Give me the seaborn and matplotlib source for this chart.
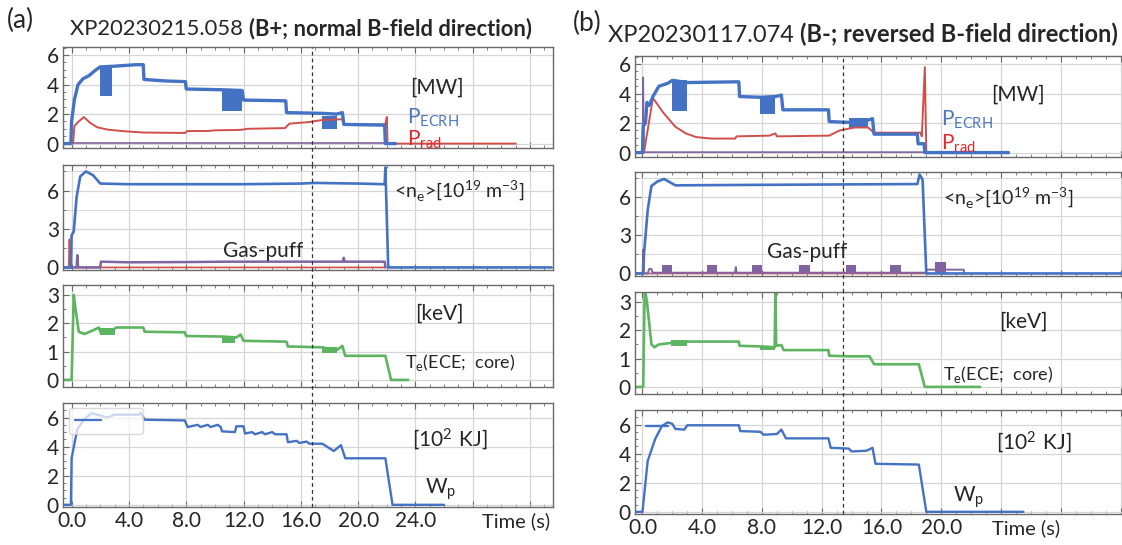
import numpy as np
import pandas as pd
import matplotlib.pyplot as plt
import seaborn as sns
from matplotlib.lines import Line2D
from matplotlib.ticker import MultipleLocator

# ==========================================
# Style
# ==========================================
sns.set_style('whitegrid')
plt.rcParams['font.family'] = ['Lato', 'DejaVu Sans']
plt.rcParams['axes.linewidth'] = 1.0

BLUE = '#4472c4'
RED = '#cf4f4b'
GREEN = '#5db461'
PURPLE = '#8064a2'
GRID = '#d6d6d6'
FRAME = '#6a6a6a'

# ==========================================
# Data -- (a) XP20230215.058
# ==========================================
a_ecrh_t = [-0.6, -0.05, 0.0, 0.2, 0.45, 0.8, 1.2, 1.7, 2.0, 3.0, 4.5, 5.0, 5.05, 6.5, 7.95, 8.0, 10.5,
            11.9, 12.0, 14.95, 15.0, 17.5, 18.5, 18.9, 19.0, 21.85, 21.9, 22.6]
a_ecrh_v = [0, 0, 1.5, 3.0, 4.0, 4.4, 4.6, 5.0, 5.2, 5.25, 5.35, 5.35, 4.35, 4.25, 4.2, 3.7, 3.65,
            3.6, 2.95, 2.9, 2.1, 2.05, 2.0, 2.1, 1.3, 1.25, 0, 0]
a_ecrh_mod_t0 = [2.0, 10.5, 17.5]
a_ecrh_mod_t1 = [2.85, 11.9, 18.5]
a_ecrh_mod_lo = [3.2, 2.2, 1.0]
a_ecrh_mod_hi = [5.25, 3.65, 1.9]

a_prad_t = [-0.6, 0.1, 0.2, 0.5, 0.85, 1.3, 1.8, 2.5, 3.5, 5.0, 7.9, 8.1, 9.5, 10.0, 11.5, 12.0, 12.2,
            14.9, 15.2, 15.8, 16.5, 17.5, 18.9, 19.0, 21.9, 22.0, 22.05, 31.0]
a_prad_v = [0, 0, 1.2, 1.5, 1.8, 1.4, 1.1, 0.95, 0.85, 0.75, 0.72, 0.85, 0.85, 0.9, 0.92, 0.95, 1.0,
            1.05, 1.35, 1.4, 1.45, 1.6, 1.65, 1.3, 1.3, 1.8, 0, 0]
a_puff1_t = [-0.6, 21.9]
a_puff1_v = [0.03, 0.03]

a_ne_t = [-0.6, -0.05, 0.0, 0.15, 0.35, 0.6, 1.0, 1.5, 2.0, 4.0, 12.0, 16.0, 17.0, 20.0, 21.85, 21.9,
          22.1, 33.5]
a_ne_v = [0, 0, 2.5, 2.8, 5.5, 7.1, 7.5, 7.2, 6.55, 6.5, 6.5, 6.55, 6.6, 6.55, 6.5, 7.8, 0, 0]
a_ne_red_t = [-0.6, -0.2, -0.15, -0.1, 21.9]
a_ne_red_v = [0, 0, 2.2, 0, 0]
a_gas_t = [-0.6, 0.35, 0.4, 0.45, 2.0, 2.05, 4.0, 8.0, 11.0, 13.0, 16.0, 18.95, 19.0, 19.05, 21.85, 21.9]
a_gas_v = [0, 0, 0.95, 0, 0, 0.45, 0.4, 0.42, 0.45, 0.45, 0.45, 0.45, 0.75, 0.45, 0.45, 0]

a_te_t = [-0.6, 0.0, 0.15, 0.25, 0.5, 0.9, 1.5, 1.9, 2.0, 3.0, 3.1, 5.0, 5.1, 7.9, 8.0, 10.5, 11.5,
          11.8, 12.0, 15.0, 15.1, 17.5, 18.5, 18.9, 19.1, 21.9, 22.3, 23.5]
a_te_v = [0, 0, 3.0, 2.6, 1.7, 1.62, 1.75, 1.85, 1.7, 1.8, 1.85, 1.85, 1.7, 1.68, 1.55, 1.53, 1.5,
          1.6, 1.38, 1.35, 1.18, 1.15, 1.05, 1.2, 0.85, 0.85, 0, 0]
a_te_mod_t0 = [2.0, 10.5, 17.5]
a_te_mod_t1 = [3.0, 11.4, 18.5]
a_te_mod_lo = [1.6, 1.3, 0.95]
a_te_mod_hi = [1.85, 1.55, 1.15]

a_wp_t = [-0.6, -0.05, 0.0, 0.4, 0.9, 1.4, 2.5, 3.0, 4.7, 4.8, 5.1, 7.9, 8.1, 8.8, 9.0, 9.5, 9.7,
          10.2, 10.4, 10.5, 11.4, 11.5, 12.0, 12.1, 12.6, 12.8, 13.3, 13.5, 14.0, 14.2, 15.0, 15.1,
          15.7, 15.9, 16.4, 16.6, 17.5, 18.3, 18.8, 19.1, 21.9, 22.4, 26.0]
a_wp_v = [0, 0, 3.2, 5.2, 5.9, 6.3, 6.0, 6.2, 6.2, 6.35, 5.85, 5.8, 5.35, 5.5, 5.35, 5.5, 5.35,
          5.5, 5.35, 5.05, 5.0, 5.4, 5.4, 4.9, 5.0, 4.85, 5.0, 4.85, 5.0, 4.85, 4.85, 4.3,
          4.4, 4.25, 4.35, 4.2, 4.2, 3.7, 4.1, 3.2, 3.2, 0, 0]

# ==========================================
# (b) XP20230117.074
# ==========================================
b_ecrh_t = [-0.5, 0.0, 0.05, 0.2, 0.3, 0.45, 0.7, 1.1, 1.7, 2.0, 3.0, 6.45, 6.5, 7.9, 8.9, 9.3, 9.4,
            12.45, 12.5, 13.8, 15.1, 15.4, 15.5, 18.4, 18.45, 18.85, 18.9, 24.5]
b_ecrh_v = [0, 0, 1.8, 2.0, 3.4, 3.2, 3.8, 4.5, 4.7, 4.9, 4.75, 4.8, 3.8, 3.75, 3.8, 3.9, 2.9,
            2.9, 2.1, 2.05, 2.2, 2.3, 1.25, 1.25, 0.6, 0.6, 0, 0]
b_ecrh_mod_t0 = [2.0, 7.9, 13.8]
b_ecrh_mod_t1 = [3.0, 8.9, 15.1]
b_ecrh_mod_lo = [2.8, 2.6, 1.7]
b_ecrh_mod_hi = [4.9, 3.85, 2.35]

b_prad_t = [-0.5, 0.1, 0.7, 1.4, 2.2, 2.9, 3.6, 4.6, 6.2, 6.3, 8.5, 8.9, 9.0, 12.5, 13.2, 14.2, 15.1,
            15.5, 18.6, 18.7, 18.9, 19.0, 24.5]
b_prad_v = [0, 0, 3.7, 2.7, 1.75, 1.3, 1.05, 0.95, 0.95, 1.1, 1.15, 1.3, 1.1, 1.15, 1.5, 1.7, 1.7,
            1.35, 1.35, 1.1, 5.8, 0, 0]
b_puff1_t = [-0.5, 0.0, 0.05, 0.1, 18.9]
b_puff1_v = [0.03, 0.03, 5.1, 0.03, 0.03]

b_ne_t = [-0.5, 0.05, 0.1, 0.35, 0.6, 1.0, 1.45, 2.2, 10.0, 18.4, 18.55, 18.75, 19.0, 32.5]
b_ne_v = [0, 0, 1.5, 5.0, 6.9, 7.25, 7.45, 6.95, 7.0, 7.05, 7.8, 7.4, 0, 0]
b_ne_red_t = [-0.5, 0.0, 0.05, 0.1, 18.9]
b_ne_red_v = [0, 0, 1.9, 0, 0]
b_gas_t = [-0.5, 0.35, 0.45, 0.6, 0.7, 0.75, 6.2, 6.25, 6.3, 18.95, 19.0, 21.5, 21.55]
b_gas_v = [0.0, 0.0, 0.35, 0.35, 0.0, 0.06, 0.06, 0.5, 0.06, 0.06, 0.3, 0.3, 0.0]
b_puff_t0 = [1.3, 4.3, 7.3, 10.5, 13.6, 16.6, 19.6]
b_puff_w = [0.7, 0.7, 0.7, 0.7, 0.7, 0.7, 0.7]
b_puff_h = [0.7, 0.7, 0.7, 0.7, 0.7, 0.7, 0.9]

b_te_t = [-0.5, 0.05, 0.15, 0.3, 0.6, 0.8, 1.1, 1.9, 3.0, 6.45, 6.5, 7.9, 8.85, 8.9, 8.95, 9.3, 9.45,
          12.45, 12.5, 13.8, 15.2, 15.5, 18.5, 18.9, 22.6]
b_te_v = [0, 0, 3.5, 3.0, 1.5, 1.4, 1.5, 1.55, 1.6, 1.6, 1.45, 1.43, 1.4, 3.5, 1.45, 1.48, 1.3,
          1.3, 1.1, 1.08, 1.08, 0.8, 0.8, 0, 0]
b_te_mod_t0 = [1.9, 7.9]
b_te_mod_t1 = [3.0, 8.9]
b_te_mod_lo = [1.45, 1.3]
b_te_mod_hi = [1.65, 1.45]

b_wp_t = [-0.5, 0.0, 0.35, 0.85, 1.3, 1.7, 2.0, 2.2, 2.8, 3.0, 6.45, 6.55, 7.9, 8.1, 9.0, 9.3, 9.6,
          12.45, 12.6, 13.8, 14.0, 15.0, 15.4, 15.6, 18.5, 19.0, 25.5]
b_wp_v = [0, 0, 3.5, 5.0, 5.9, 6.15, 6.05, 5.7, 5.65, 5.95, 5.95, 5.55, 5.5, 5.3, 5.35, 5.65, 5.05,
          5.05, 4.4, 4.35, 4.15, 4.2, 4.4, 3.3, 3.25, 0, 0]
b_wp_ref_t = [0.25, 1.7]
b_wp_ref_v = [5.9, 5.9]

# axes settings per row
ylims = [(-0.3, 6.55), (-0.2, 8.0), (-0.25, 3.35), (-0.15, 7.0)]
yticks = [[0, 2, 4, 6], [0, 3, 6], [0, 1, 2, 3], [0, 2, 4, 6]]
a_xticklabels = ['0.0', '4.0', '8.0', '12.0', '16.0', '20.0', '24.0', '', '']
b_xticklabels = ['0.0', '4.0', '8.0', '12.0', '16.0', '20.0', '', '', '']
a_marker_t = 16.8
b_marker_t = 13.4

# ==========================================
# Layout (pixel boxes of the original figure)
# ==========================================
W, H = 1122, 545
fig = plt.figure(figsize=(W / 100, H / 100), dpi=100)

def px_axes(x0, x1, y0, y1):
    return fig.add_axes([x0 / W, 1 - y1 / H, (x1 - x0) / W, (y1 - y0) / H])

a_rows = [(47, 148), (165, 270), (285, 387), (403, 507)]
b_rows = [(56, 157), (172, 276), (292, 394), (410, 514)]
axes_a = [px_axes(63, 553, y0, y1) for (y0, y1) in a_rows]
axes_b = [px_axes(635, 1125, y0, y1) for (y0, y1) in b_rows]


def trace(ax, t, v, color, lw=1.6):
    sns.lineplot(x=t, y=v, ax=ax, color=color, lw=lw, sort=False, estimator=None, legend=False)


def blocks(ax, t0, t1, lo, hi, color):
    ax.bar(t0, np.subtract(hi, lo), bottom=lo, width=np.subtract(t1, t0), align='edge',
           color=color, lw=0)


def style(axes, xlim, xlabels, marker_t, rows):
    for i, ax in enumerate(axes):
        ax.set_xlim(*xlim)
        ax.set_ylim(*ylims[i])
        ax.set_yticks(yticks[i])
        ax.set_xticks(range(0, 36, 4))
        ax.xaxis.set_minor_locator(MultipleLocator(1))
        ax.yaxis.set_minor_locator(MultipleLocator(0.5 if i != 1 else 1.5))
        ax.grid(True, which='major', color=GRID, lw=0.9)
        if i == 1:
            ax.grid(True, which='minor', axis='y', color=GRID, lw=0.7)
        ax.set_axisbelow(True)
        for s in ax.spines.values():
            s.set_color(FRAME)
        ax.tick_params(which='both', direction='in', top=True, bottom=True, left=True,
                       right=False, color=FRAME)
        ax.tick_params(which='major', length=4, labelsize=15, pad=3)
        ax.tick_params(which='minor', length=2.2)
        ax.set_xlabel('')
        ax.set_ylabel('')
        if i < 3:
            ax.tick_params(labelbottom=False)
            gap = (rows[i + 1][0] - rows[i][1]) / (rows[i][1] - rows[i][0])
            ymin = -gap
        else:
            ax.set_xticklabels(xlabels)
            ymin = 0
        ax.axvline(marker_t, ymin=ymin, ymax=1, clip_on=False, color='#333333', lw=0.9,
                   ls=(0, (3, 2.5)), zorder=5)


# ---- (a) ----
ax = axes_a[0]
blocks(ax, a_ecrh_mod_t0, a_ecrh_mod_t1, a_ecrh_mod_lo, a_ecrh_mod_hi, BLUE)
trace(ax, a_puff1_t, a_puff1_v, PURPLE, 1.2)
trace(ax, a_prad_t, a_prad_v, RED, 1.4)
trace(ax, a_ecrh_t, a_ecrh_v, BLUE, 2.4)

ax = axes_a[1]
trace(ax, a_ne_red_t, a_ne_red_v, RED, 1.2)
trace(ax, a_gas_t, a_gas_v, PURPLE, 1.8)
trace(ax, a_ne_t, a_ne_v, BLUE, 1.9)

ax = axes_a[2]
blocks(ax, a_te_mod_t0, a_te_mod_t1, a_te_mod_lo, a_te_mod_hi, GREEN)
trace(ax, a_te_t, a_te_v, GREEN, 1.9)

ax = axes_a[3]
trace(ax, a_wp_t, a_wp_v, BLUE, 1.7)
ax.legend(handles=[Line2D([0], [0], color=BLUE, lw=1.6)], labels=['        '], loc='upper left',
          bbox_to_anchor=(0.013, 0.95), handlelength=1.7, handletextpad=0.3, borderpad=0.4,
          borderaxespad=0, fontsize=11, framealpha=0.72, edgecolor='#cccccc', fancybox=True)

# ---- (b) ----
ax = axes_b[0]
blocks(ax, b_ecrh_mod_t0, b_ecrh_mod_t1, b_ecrh_mod_lo, b_ecrh_mod_hi, BLUE)
trace(ax, b_puff1_t, b_puff1_v, PURPLE, 1.2)
trace(ax, b_prad_t, b_prad_v, RED, 1.4)
trace(ax, b_ecrh_t, b_ecrh_v, BLUE, 2.4)

ax = axes_b[1]
trace(ax, b_ne_red_t, b_ne_red_v, RED, 1.2)
ax.bar(b_puff_t0, b_puff_h, width=b_puff_w, align='edge', color=PURPLE, lw=0)
trace(ax, b_gas_t, b_gas_v, PURPLE, 1.4)
trace(ax, b_ne_t, b_ne_v, BLUE, 1.9)

ax = axes_b[2]
blocks(ax, b_te_mod_t0, b_te_mod_t1, b_te_mod_lo, b_te_mod_hi, GREEN)
trace(ax, b_te_t, b_te_v, GREEN, 1.9)

ax = axes_b[3]
trace(ax, b_wp_ref_t, b_wp_ref_v, BLUE, 1.7)
trace(ax, b_wp_t, b_wp_v, BLUE, 1.7)

style(axes_a, (-0.6, 33.6), a_xticklabels, a_marker_t, a_rows)
style(axes_b, (-0.5, 32.3), b_xticklabels, b_marker_t, b_rows)

# ==========================================
# Annotations
# ==========================================
FS = 15
mr = r'$\mathregular{%s}$'
NE = r'<n$_\mathregular{e}$>[10$^\mathregular{19}$ m$^\mathregular{-3}$]'
TE = r'T$_\mathregular{e}$(ECE;  core)'

ax = axes_a[0]
ax.text(23.6, 3.8, '[MW]', fontsize=FS, va='center')
ax.text(23.4, 1.75, mr % 'P_{ECRH}', fontsize=FS, color='#4a78bd', va='center')
ax.text(23.4, 0.25, mr % 'P_{rad}', fontsize=FS, color='#e8262b', va='center')
ax = axes_a[1]
ax.text(22.5, 6.0, NE, fontsize=FS - 1, va='center')
ax.text(13.4, 1.3, 'Gas-puff', fontsize=FS, ha='center', va='center')
ax = axes_a[2]
ax.text(25.7, 2.35, '[keV]', fontsize=FS, ha='center', va='center')
ax.text(23.3, 0.6, TE, fontsize=FS - 2, va='center')
ax = axes_a[3]
ax.text(26.4, 4.5, mr % '[10^2\\ KJ]', fontsize=FS, ha='center', va='center')
ax.text(24.7, 1.1, mr % 'W_p', fontsize=FS, va='center')
ax.text(31.0, -0.14, 'Time (s)', fontsize=14.5, ha='center', va='center',
        transform=ax.get_xaxis_transform())

ax = axes_b[0]
ax.text(25.1, 3.9, '[MW]', fontsize=FS, ha='center', va='center')
ax.text(20.0, 2.25, mr % 'P_{ECRH}', fontsize=FS, color='#4a78bd', va='center')
ax.text(20.0, 0.6, mr % 'P_{rad}', fontsize=FS, color='#e8262b', va='center')
ax = axes_b[1]
ax.text(20.1, 6.0, NE, fontsize=FS - 1, va='center')
ax.text(11.0, 1.7, 'Gas-puff', fontsize=FS, ha='center', va='center')
ax = axes_b[2]
ax.text(25.5, 2.3, '[keV]', fontsize=FS, ha='center', va='center')
ax.text(20.1, 0.45, TE, fontsize=FS - 2, va='center')
ax = axes_b[3]
ax.text(26.2, 4.8, mr % '[10^2\\ KJ]', fontsize=FS, ha='center', va='center')
ax.text(20.8, 1.0, mr % 'W_p', fontsize=FS, va='center')
ax.text(25.7, -0.14, 'Time (s)', fontsize=14.5, ha='center', va='center',
        transform=ax.get_xaxis_transform())

# panel letters and titles
fig.text(20 / W, 1 - 20 / H, '(a)', fontsize=19, ha='center', va='center')
fig.text(587 / W, 1 - 23 / H, '(b)', fontsize=19, ha='center', va='center')
ta = fig.text(70 / W, 1 - 35 / H, 'XP20230215.058 ', fontsize=15.8, va='baseline')
axes_a[0].annotate('(B+; normal B-field direction)', xy=(1, 0), xycoords=ta, va='bottom',
                   fontsize=15.8, fontweight='bold', annotation_clip=False)
tb = fig.text(608 / W, 1 - 42 / H, 'XP20230117.074 ', fontsize=17, va='baseline')
axes_b[0].annotate('(B-; reversed B-field direction)', xy=(1, 0), xycoords=tb, va='bottom',
                   fontsize=17, fontweight='bold', annotation_clip=False)

fig.savefig('out.png', dpi=100, facecolor='white')
